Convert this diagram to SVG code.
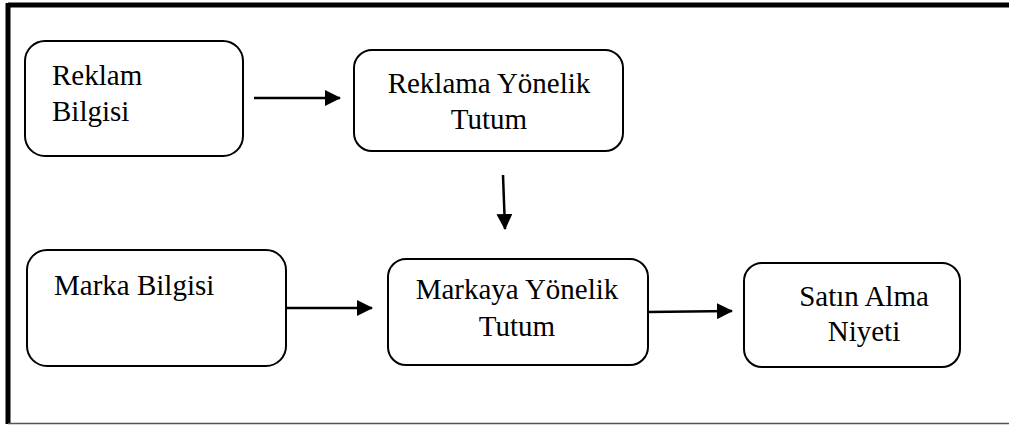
<svg xmlns="http://www.w3.org/2000/svg" width="1009" height="426" viewBox="0 0 1009 426">
<style>
.box{fill:#fff;stroke:#000;stroke-width:2}
.t{font-family:"Liberation Serif","Times New Roman",serif;font-size:29px;fill:#000}
.c{text-anchor:middle}
.e{stroke:#000;stroke-width:2.5;fill:none;marker-end:url(#ah)}
</style>
<defs>
<marker id="ah" markerWidth="16" markerHeight="16" refX="15" refY="8" orient="auto" markerUnits="userSpaceOnUse">
<path d="M0,0 L16,8 L0,16 Z" fill="#000"/>
</marker>
</defs>
<rect x="0" y="0" width="1009" height="426" fill="#fff"/>
<g id="frame">
<line x1="8" y1="5" x2="1009" y2="5" stroke="#000" stroke-width="5"/>
<line x1="8" y1="3" x2="8" y2="424" stroke="#000" stroke-width="5"/>
<line x1="8" y1="423.5" x2="1009" y2="423.5" stroke="#555" stroke-width="1.5"/>
</g>
<g id="reklam-bilgisi">
<rect class="box" x="25" y="41" width="218" height="115" rx="20"/>
<text class="t" x="52" y="85">Reklam</text>
<text class="t" x="52" y="121">Bilgisi</text>
</g>
<g id="reklama-yonelik-tutum">
<rect class="box" x="354" y="50" width="269" height="101" rx="18"/>
<text class="t c" x="489" y="93">Reklama Yönelik</text>
<text class="t c" x="489" y="128.5">Tutum</text>
</g>
<g id="marka-bilgisi">
<rect class="box" x="27" y="250" width="259" height="116" rx="20"/>
<text class="t" x="54" y="295">Marka Bilgisi</text>
</g>
<g id="markaya-yonelik-tutum">
<rect class="box" x="388" y="259" width="260" height="106" rx="18"/>
<text class="t c" x="517" y="299">Markaya Yönelik</text>
<text class="t c" x="517" y="336">Tutum</text>
</g>
<g id="satin-alma-niyeti">
<rect class="box" x="744" y="263" width="216" height="104" rx="18"/>
<text class="t c" x="864" y="305.5">Satın Alma</text>
<text class="t c" x="864" y="340.5">Niyeti</text>
</g>
<g id="connectors">
<line class="e" x1="254" y1="98" x2="340" y2="98"/>
<line class="e" x1="503" y1="175" x2="505" y2="229"/>
<line class="e" x1="286" y1="308" x2="372" y2="308"/>
<line class="e" x1="648" y1="312" x2="732" y2="311"/>
</g>
</svg>
